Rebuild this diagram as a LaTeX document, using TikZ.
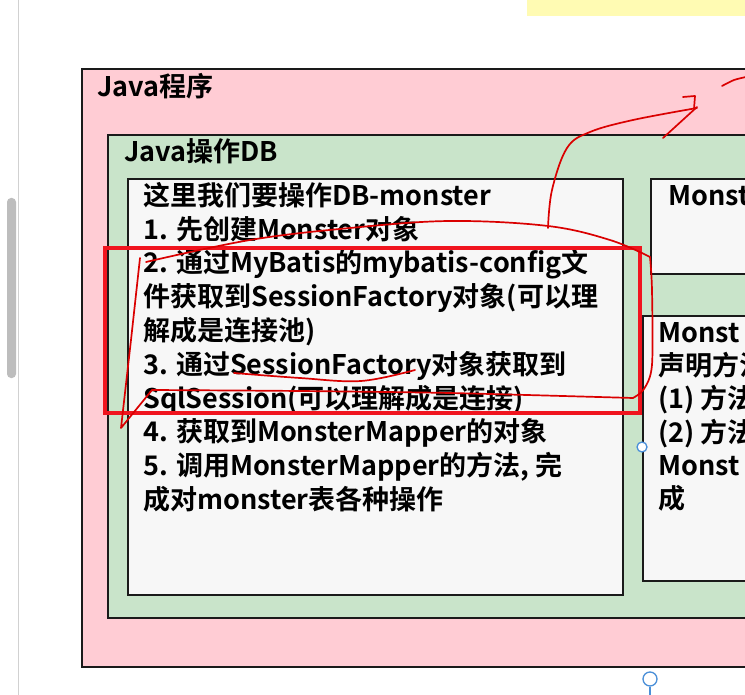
\documentclass[tikz,border=0pt]{standalone}
\usepackage{fontspec}
\setmainfont{Noto Sans CJK SC}[BoldFont={Noto Sans CJK SC Bold}]
\usetikzlibrary{positioning}
\definecolor{progpink}{HTML}{FFCCD4}
\definecolor{dbgreen}{HTML}{C9E4CA}
\definecolor{notewhite}{HTML}{F7F7F7}
\definecolor{framedark}{HTML}{1A1A1A}
\definecolor{penred}{HTML}{DA0000}
\definecolor{markred}{HTML}{F0141E}
\definecolor{handleblue}{HTML}{4A8FD8}
\definecolor{hintyellow}{HTML}{FFFBB3}
\definecolor{bargray}{HTML}{BDBDBD}
\tikzset{
  panel/.style={
    rectangle, draw=framedark, line width=2pt,
    anchor=north west, inner sep=0pt,
  },
  title/.style={anchor=base west, inner sep=0pt, font=\fontsize{27}{33.8}\selectfont\bfseries},
  note/.style={
    anchor=north west, inner sep=0pt, align=left,
    font=\fontsize{27}{33.8}\selectfont\bfseries,
  },
  pen/.style={draw=penred, line width=1.7pt, line cap=round, line join=round},
  marker/.style={draw=markred, line width=3.4pt},
  handle/.style={circle, draw=handleblue, fill=white, line width=1.3pt, inner sep=0pt},
}

\begin{document}
\begin{tikzpicture}[x=1pt, y=-1pt]

  \clip (0,0) rectangle (745,695);
  \fill[white] (0,0) rectangle (745,695);

  % window chrome
  \fill[hintyellow] (527,0) rectangle (745,16);
  \draw[bargray!70, line width=1pt] (18,0) -- (18,695);
  \fill[bargray, rounded corners=4pt] (7,198) rectangle (16,378);

  % boxes
  \node[panel, fill=progpink, minimum width=720pt, minimum height=598pt] (prog) at (81,68) {};
  \node[panel, fill=dbgreen, minimum width=700pt, minimum height=483pt] (db) at (107,134) {};
  \node[panel, fill=notewhite, minimum width=495pt, minimum height=416pt] (steps) at (127,178) {};
  \node[panel, fill=notewhite, minimum width=120pt, minimum height=95pt] (iface) at (650,178) {};
  \node[panel, fill=notewhite, minimum width=120pt, minimum height=265pt] (impl) at (642,315) {};

  % texts
  \node[title] (progtitle) at (97,97) {Java程序};
  \node[title] (dbtitle) at (124,162) {Java操作DB};
  \node[note] (steptext) at (143,179) {\rule{0pt}{26pt}这里我们要操作DB-monster\\
    1. 先创建Monster对象\\
    2. 通过MyBatis的mybatis-config文\\
    件获取到SessionFactory对象(可以理\\
    解成是连接池)\\
    3. 通过SessionFactory对象获取到\\
    SqlSession(可以理解成是连接)\\
    4. 获取到MonsterMapper的对象\\
    5. 调用MonsterMapper的方法, 完\\
    成对monster表各种操作};
  \node[title] (ifacetext) at (668,206) {Monst};
  \node[note, font=\fontsize{27}{33.3}\selectfont\bfseries] (impltext) at (658,316) {\rule{0pt}{26pt}Monst\\
    声明方法\\
    (1) 方法\\
    (2) 方法\\
    Monst\\
    成};

  % handles
  \node[handle, minimum size=10pt] (hside) at (642,447) {};
  \node[handle, minimum size=14pt] (hbottom) at (650,679) {};
  \coordinate (hfoot) at (650,695);
  \draw[handleblue, line width=1.3pt] (hbottom) -- (hfoot);

  % red marks
  \draw[marker] (105,248) rectangle (640,413);
  \draw[pen] plot[smooth, tension=0.6] coordinates {(548,228) (552,190) (567,148) (590,132) (633,120) (697,108)};
  \draw[pen] (683,97) -- (695,96) -- (694,109);
  \draw[pen] (663,138) -- (697,107);
  \draw[pen] plot[smooth] coordinates {(722,86) (734,80) (746,77)};
  \draw[pen] plot[smooth, tension=0.6] coordinates {(146,262) (250,240) (350,228) (450,221) (548,226) (610,240) (650,257)};
  \draw[pen] plot[smooth, tension=0.5] coordinates {(650,257) (652,290) (652,365) (644,389) (633,398)};
  \draw[pen] plot[smooth, tension=0.4] coordinates {(633,398) (450,393) (300,391) (152,390)};
  \draw[pen] (152,390) -- (121,428) -- (131,340) -- (140,258);
  \draw[pen] plot[smooth, tension=0.6] coordinates {(234,373) (300,378) (361,381) (415,370)};

\end{tikzpicture}
\end{document}
